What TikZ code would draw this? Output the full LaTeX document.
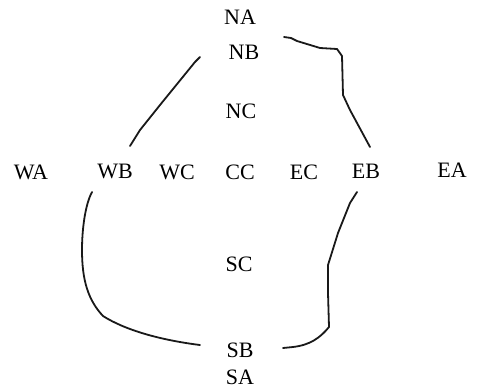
\documentclass[tikz,border=0pt]{standalone}
\usepackage{fontspec}
\setmainfont{Liberation Serif}
\begin{document}
\begin{tikzpicture}[x=1pt,y=-1pt,
  lbl/.style={inner sep=0pt, font=\fontsize{22}{26}\selectfont},
  path/.style={line width=1.8pt, line cap=round, line join=round, black!90}]
\useasboundingbox (0,0) rectangle (489,391);
\node[lbl] (NA) at (240,17) {NA};
\node[lbl] (NB) at (244,52) {NB};
\node[lbl] (NC) at (241,111) {NC};
\node[lbl] (WA) at (31,172) {WA};
\node[lbl] (WB) at (115,171) {WB};
\node[lbl] (WC) at (177,172) {WC};
\node[lbl] (CC) at (240,172) {CC};
\node[lbl] (EC) at (304,172) {EC};
\node[lbl] (EB) at (366,171) {EB};
\node[lbl] (EA) at (452,170) {EA};
\node[lbl] (SC) at (239,264) {SC};
\node[lbl] (SB) at (240,350) {SB};
\node[lbl] (SA) at (240,377) {SA};
% connector ends
\coordinate (ne1) at (284,37);
\coordinate (ne2) at (370,147);
\coordinate (nw1) at (200,57);
\coordinate (nw2) at (130,146);
\coordinate (sw1) at (92,192);
\coordinate (sw2) at (200,345);
\coordinate (se1) at (357,192);
\coordinate (se2) at (283,348);
\draw[path] (ne1) -- (291,38) -- (297,41) -- (320,48) -- (337,49) -- (342,56) -- (343,95) -- (350,110) -- (ne2);
\draw[path] (nw1) -- (195,62) -- (160,105) -- (140,130) -- (nw2);
\draw[path] (sw1) .. controls (85,205) and (82,230) .. (82,250)
  .. controls (82,280) and (88,300) .. (103,316)
  .. controls (125,330) and (160,340) .. (sw2);
\draw[path] (se1) -- (350,203) -- (338,233) -- (328,265) -- (328,293) -- (329,327)
  .. controls (320,338) and (310,345) .. (293,347) -- (se2);
\end{tikzpicture}
\end{document}
